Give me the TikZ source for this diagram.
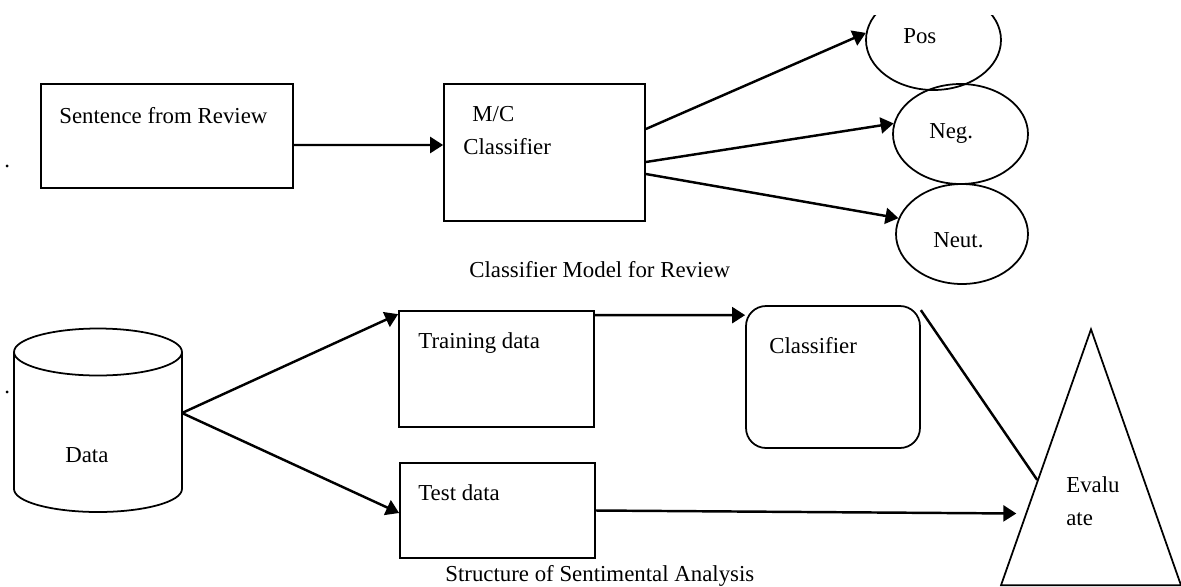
\documentclass[tikz,border=0pt]{standalone}
\usepackage{fontspec}
\setmainfont{Liberation Serif}
\usetikzlibrary{arrows.meta}
\usetikzlibrary{calc}
\usetikzlibrary{shapes,shapes.geometric}
\pgfdeclarelayer{edgelayer}
\pgfdeclarelayer{nodelayer}
\pgfsetlayers{edgelayer,nodelayer,main}
\tikzstyle{none}=[inner sep=0mm]
\tikzstyle{outline}=[line width=1pt]
\tikzstyle{box}=[draw,shape=rectangle,outline,inner sep=0mm]
\tikzstyle{rbox}=[box,rounded corners=0.4cm]
\tikzstyle{oval}=[draw,shape=ellipse,outline,inner sep=0mm,minimum width=2.7cm,minimum height=2cm]
\tikzstyle{peak}=[draw,shape=isosceles triangle,shape border rotate=90,isosceles triangle stretches,outline,inner sep=0mm,minimum width=3.6cm,minimum height=5.12cm]
\tikzstyle{lbl}=[inner sep=0mm,anchor=base west,font=\fontsize{13}{16}\selectfont]
\tikzstyle{diredge}=[-{Triangle[length=0.26cm,width=0.32cm]},line width=1.4pt]
\tikzstyle{plainedge}=[line width=1.4pt]

\begin{document}
\begin{tikzpicture}[x=0.02cm,y=-0.02cm]
	\useasboundingbox (0,0) rectangle (1181,586);
	\begin{pgfonlayer}{nodelayer}
		% upper half: classifier model
		\node [style=box, minimum width=5.04cm, minimum height=2.08cm] (sent) at (167,136) {};
		\node [style=box, minimum width=4.02cm, minimum height=2.74cm] (mc) at (544.5,152.5) {};
		\begin{scope}
			\clip (0,15) rectangle (1181,586);
			\node [style=oval] (pos) at (933.5,40) {};
		\end{scope}
		\node [style=oval] (neg) at (960.5,134) {};
		\node [style=oval, minimum width=2.64cm] (neut) at (962,234) {};
		% lower half: structure
		\draw [style=outline] (14,352) -- (14,489) arc [start angle=180, end angle=360, x radius=1.68cm, y radius=0.46cm] -- (182,352);
		\draw [style=outline] (98,352) ellipse [x radius=1.68cm, y radius=0.47cm];
		\coordinate (data) at (182,413);
		\node [style=box, minimum width=3.9cm, minimum height=2.32cm] (train) at (496.5,369) {};
		\node [style=box, minimum width=3.9cm, minimum height=1.9cm] (test) at (497.5,510.5) {};
		\node [style=rbox, minimum width=3.48cm, minimum height=2.84cm] (cls) at (833,377) {};
		\node [style=peak, anchor=apex] (ev) at (1091,327) {};
		% texts
		\node [style=lbl] (senttxt) at (59,123) {Sentence from Review};
		\node [style=lbl] (mctxt) at (472,121) {M/C};
		\node [style=lbl] (mctxtb) at (463,154) {Classifier};
		\node [style=lbl] (postxt) at (903,43) {Pos};
		\node [style=lbl] (negtxt) at (929,138) {Neg.};
		\node [style=lbl] (neuttxt) at (933,247) {Neut.};
		\node [style=lbl] (toptitle) at (469,277) {Classifier Model for Review};
		\node [style=lbl] (datatxt) at (65,462) {Data};
		\node [style=lbl] (traintxt) at (418,348) {Training data};
		\node [style=lbl] (testtxt) at (418,500) {Test data};
		\node [style=lbl] (clstxt) at (769,353) {Classifier};
		\node [style=lbl] (evtxt) at (1066,492) {Evalu};
		\node [style=lbl] (evtxtb) at (1066,525) {ate};
		\node [style=lbl] (bottitle) at (445,581) {Structure of Sentimental Analysis};
		\node [style=lbl] (dota) at (4,167) {.};
		\node [style=lbl] (dotb) at (4,393) {.};
	\end{pgfonlayer}
	\begin{pgfonlayer}{edgelayer}
		\draw [style=diredge] ([yshift=-0.18cm]sent.east) to ([yshift=0.15cm]mc.west);
		\draw [style=diredge] ([yshift=0.47cm]mc.east) to (pos.174);
		\draw [style=diredge] ([yshift=-0.19cm]mc.east) to (neg.171);
		\draw [style=diredge] ([yshift=-0.43cm]mc.east) to (neut.166);
		\draw [style=diredge] (data) to ([yshift=-0.08cm]train.north west);
		\draw [style=diredge] (data) to ([yshift=-0.05cm]test.west);
		\draw [style=diredge] ([yshift=-0.1cm]train.north east) to ([yshift=-0.2cm]cls.north west);
		\draw [style=plainedge] ([yshift=-0.1cm]cls.north east) to ($(ev.apex)!0.59!(ev.left corner)$);
		\draw [style=diredge, shorten >=0.18cm] (test.east) to ($(ev.apex)!0.72!(ev.left corner)$);
	\end{pgfonlayer}
\end{tikzpicture}
\end{document}
